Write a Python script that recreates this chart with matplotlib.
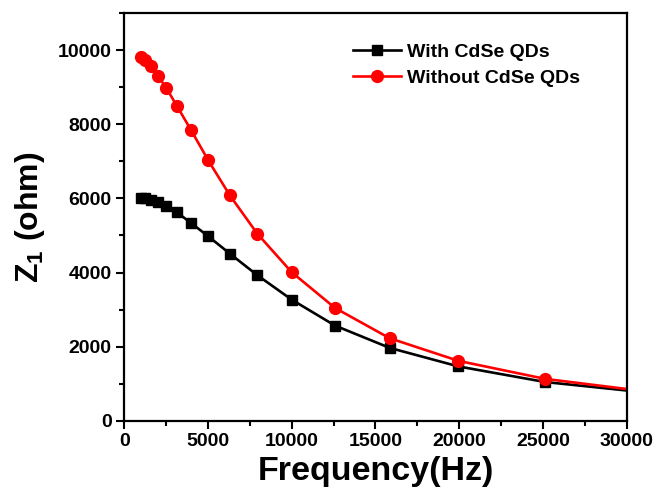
import matplotlib
matplotlib.use('Agg')
import matplotlib.pyplot as plt
from matplotlib.ticker import MultipleLocator

# frequency sweep (Hz) and real part of impedance (ohm)
freq = [1000, 1259, 1585, 1995, 2512, 3162, 3981, 5012, 6310, 7943,
        10000, 12589, 15849, 19953, 25119, 31623]
z_with = [6020, 6000, 5960, 5900, 5800, 5620, 5340, 4980, 4510, 3930,
          3270, 2570, 1970, 1470, 1050, 745]
z_without = [9800, 9720, 9560, 9310, 8980, 8480, 7850, 7030, 6080, 5050,
             4010, 3045, 2230, 1620, 1135, 770]

plt.rcParams['font.family'] = ['Liberation Sans', 'DejaVu Sans']
plt.rcParams['font.weight'] = 'bold'
plt.rcParams['mathtext.fontset'] = 'custom'
plt.rcParams['mathtext.rm'] = 'Liberation Sans:bold'
plt.rcParams['mathtext.bf'] = 'Liberation Sans:bold'

fig = plt.figure(figsize=(6.57, 4.97), dpi=100)
ax = fig.add_axes([0.189, 0.153, 0.765, 0.821])

ax.plot(freq, z_with, color='black', lw=1.9, marker='s', ms=7.5,
        label='With CdSe QDs')
ax.plot(freq, z_without, color='red', lw=1.9, marker='o', ms=8.5,
        label='Without CdSe QDs')

ax.set_xlim(0, 30000)
ax.set_ylim(0, 11000)
ax.xaxis.set_major_locator(MultipleLocator(5000))
ax.xaxis.set_minor_locator(MultipleLocator(2500))
ax.yaxis.set_major_locator(MultipleLocator(2000))
ax.yaxis.set_minor_locator(MultipleLocator(1000))

for s in ax.spines.values():
    s.set_linewidth(1.6)
ax.tick_params(which='major', direction='out', length=6, width=1.5,
               labelsize=14, pad=3)
ax.tick_params(which='minor', direction='out', length=3.5, width=1.5)
for lab in ax.get_xticklabels() + ax.get_yticklabels():
    lab.set_fontweight('bold')

ax.set_xlabel('Frequency(Hz)', fontsize=24.5, fontweight='bold', labelpad=4)
ax.set_ylabel('Z$_1$ (ohm)', fontsize=23, fontweight='bold', labelpad=8)

leg = ax.legend(loc='upper left', bbox_to_anchor=(0.44, 0.945), frameon=False,
                fontsize=14, handlelength=2.45, handletextpad=0.3,
                labelspacing=0.45, borderaxespad=0)
for t in leg.get_texts():
    t.set_fontweight('bold')

fig.savefig('out.png', dpi=100)
